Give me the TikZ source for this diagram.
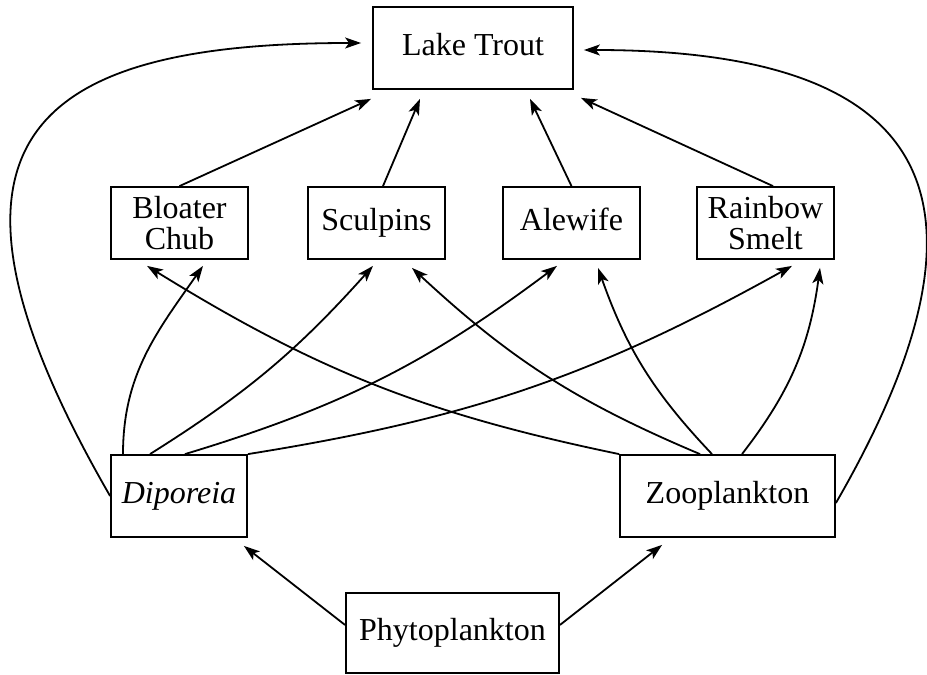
\documentclass[tikz,border=0pt]{standalone}
\usepackage{fontspec}
\setmainfont{Liberation Serif}
\usetikzlibrary{arrows.meta}

\begin{document}
\begin{tikzpicture}[x=0.5pt,y=0.5pt,
    box/.style={draw, line width=0.9pt, inner sep=0pt, align=center, font=\fontsize{16}{15.4}\selectfont},
    oneline/.style={text height=11.2pt, text depth=3.5pt},
    fish/.style={box, minimum width=68.5pt, minimum height=36pt},
    link/.style={line width=0.9pt, -{Stealth[length=8pt,width=5.5pt,inset=2pt]}}]
\useasboundingbox (0,0) rectangle (927,675);
% boxes
\node[box, oneline, minimum width=100pt, minimum height=41pt] (lt) at (473,627) {Lake Trout};
\node[fish] (blo) at (179.5,452) {Bloater\\Chub};
\node[fish, oneline] (scu) at (376.5,452) {Sculpins};
\node[fish, oneline] (ale) at (571.5,452) {Alewife};
\node[fish] (rai) at (765.5,452) {Rainbow\\Smelt};
\node[box, oneline, minimum width=68pt, minimum height=41pt] (dip) at (179,179) {\textit{Diporeia}};
\node[box, oneline, minimum width=107.5pt, minimum height=41pt] (zoo) at (727.5,179) {Zooplankton};
\node[box, oneline, minimum width=106.5pt, minimum height=40pt] (phy) at (452.5,42) {Phytoplankton};
% up to lake trout
\draw[link] (blo.north) -- ([shift={(-0.5pt,-4.5pt)}]lt.south west);
\draw[link] ([xshift=3.25pt]scu.north) -- ([shift={(-26.5pt,-4.5pt)}]lt.south);
\draw[link] (ale.north) -- ([shift={(28.5pt,-4.5pt)}]lt.south);
\draw[link] ([xshift=3.75pt]rai.north) -- ([shift={(3.5pt,-4pt)}]lt.south east);
\draw[link] (dip.west) .. controls +(120:420) and +(180:320) .. ([shift={(-5.5pt,2.5pt)}]lt.west);
\draw[link] ([yshift=-3.5pt]zoo.east) .. controls +(60:400) and +(0:300) .. ([shift={(5pt,-1pt)}]lt.east);
% from diporeia
\draw[link] ([xshift=-28pt]dip.north) to[out=90,in=-125] ([shift={(11.75pt,-3pt)}]blo.south);
\draw[link] ([xshift=-14.5pt]dip.north) to[bend right=8] ([shift={(-1.75pt,-3pt)}]scu.south);
\draw[link] ([xshift=3pt]dip.north) to[bend right=10] ([shift={(-7.25pt,-3pt)}]ale.south);
\draw[link] (dip.north east) to[bend right=10] ([shift={(13.25pt,-3pt)}]rai.south);
% from zooplankton
\draw[link] (zoo.north west) to[bend left=10] ([shift={(-16.25pt,-3pt)}]blo.south);
\draw[link] ([xshift=-13.75pt]zoo.north) to[bend left=10] ([shift={(17.75pt,-4pt)}]scu.south);
\draw[link] ([xshift=-7.75pt]zoo.north) to[bend left=12] ([shift={(13.25pt,-4pt)}]ale.south);
\draw[link] ([xshift=7.25pt]zoo.north) to[bend right=15] ([shift={(27.25pt,-4pt)}]rai.south);
% from phytoplankton
\draw[link] ([yshift=4pt]phy.west) -- ([shift={(-2pt,-4pt)}]dip.south east);
\draw[link] ([yshift=4pt]phy.east) -- ([shift={(21.5pt,-3.5pt)}]zoo.south west);
\end{tikzpicture}
\end{document}
